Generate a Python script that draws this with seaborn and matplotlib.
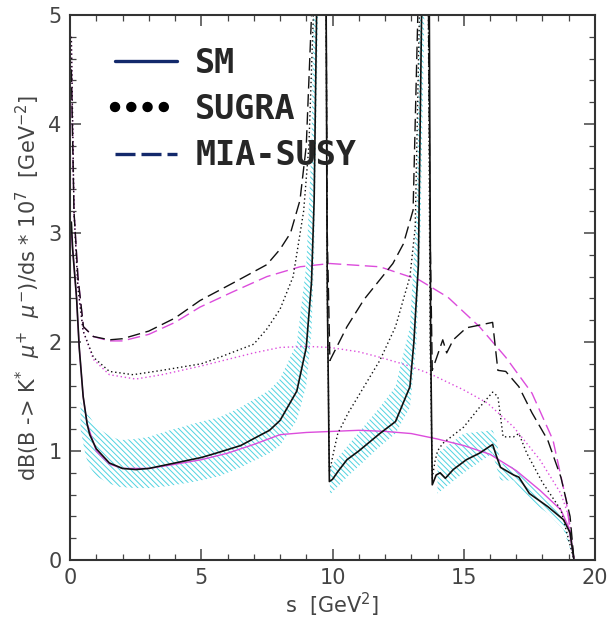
import numpy as np
import pandas as pd
import seaborn as sns
import matplotlib
matplotlib.use("Agg")
import matplotlib.pyplot as plt
from matplotlib.lines import Line2D
from matplotlib.ticker import MultipleLocator

# --- SM (black solid, with resonances) ---
s_sm = [0.05, 0.1, 0.15, 0.25, 0.35, 0.5, 0.65, 0.75, 1.0, 1.5, 2.0, 2.5, 3.0,
        3.8, 5.0, 5.7, 6.5, 7.6, 8.0, 8.64, 9.0, 9.2, 9.3, 9.42, 9.6, 9.75, 9.8,
        9.88, 10.0, 10.2, 10.55, 11.0, 11.8, 12.4, 12.95, 13.1, 13.27, 13.42,
        13.55, 13.68, 13.74, 13.8, 13.95, 14.1, 14.3, 14.6, 15.1, 15.6, 16.1,
        16.25, 16.4, 16.9, 17.1, 17.5, 18.2, 18.8, 19.05, 19.2]
v_sm = [3.1, 2.85, 2.7, 2.4, 1.95, 1.5, 1.25, 1.15, 1.02, 0.89, 0.84, 0.83, 0.84,
        0.88, 0.94, 0.99, 1.05, 1.19, 1.28, 1.55, 1.95, 2.55, 3.3, 5.5, 9.0, 5.5,
        2.5, 0.72, 0.74, 0.81, 0.92, 1.0, 1.16, 1.27, 1.59, 2.0, 2.7, 5.5, 9.0,
        5.5, 2.0, 0.69, 0.78, 0.80, 0.75, 0.83, 0.92, 0.98, 1.06, 0.95, 0.85,
        0.78, 0.76, 0.61, 0.49, 0.37, 0.25, 0.0]

# SM uncertainty band (nan = gap at the resonances)
s_band = [0.4, 0.6, 0.76, 1.0, 1.5, 1.9, 2.5, 3.0, 3.8, 5.0, 5.7, 6.5, 7.6, 8.0,
          8.64, 9.0, 9.2, 9.3, 9.45, 9.6,
          9.8, 9.9, 10.55, 11.8, 12.4, 12.95, 13.2, 13.35, 13.5, 13.6,
          13.75, 14.0, 15.0, 16.1, 16.25, 16.4, 16.9, 17.5, 18.2, 18.8, 19.2]
band_hi = [1.45, 1.35, 1.31, 1.22, 1.14, 1.10, 1.11, 1.13, 1.19, 1.27, 1.31, 1.40,
           1.56, 1.66, 1.99, 2.7, 3.8, 5.5, 5.5, np.nan,
           np.nan, 0.85, 1.04, 1.40, 1.59, 2.14, 3.2, 5.5, 5.5, np.nan,
           np.nan, 0.98, 1.16, 1.19, 1.10, 0.89, 0.85, 0.71, 0.55, 0.37, 0.0]
band_lo = [1.2, 0.95, 0.85, 0.77, 0.70, 0.67, 0.66, 0.66, 0.68, 0.73, 0.77, 0.85,
           0.98, 1.05, 1.28, 1.6, 2.1, 2.8, 5.0, np.nan,
           np.nan, 0.6, 0.76, 1.04, 1.16, 1.4, 2.0, 3.0, 5.0, np.nan,
           np.nan, 0.61, 0.80, 0.98, 0.85, 0.73, 0.73, 0.55, 0.43, 0.28, 0.0]

# --- SM non-resonant (magenta solid) ---
s_sm_nr = [0.05, 0.15, 0.25, 0.35, 0.5, 0.65, 1.0, 1.5, 2.0, 3.0, 3.8, 5.0, 6.0,
           7.0, 8.0, 9.0, 10.0, 11.0, 12.0, 13.0, 14.0, 15.0, 16.0, 17.0, 17.9,
           18.7, 19.0, 19.2]
v_sm_nr = [3.0, 2.7, 2.4, 1.95, 1.5, 1.25, 1.0, 0.88, 0.84, 0.84, 0.87, 0.92,
           0.98, 1.06, 1.15, 1.17, 1.18, 1.19, 1.18, 1.16, 1.11, 1.05, 0.97,
           0.82, 0.64, 0.46, 0.3, 0.0]

# --- SUGRA (black dotted) ---
s_sugra = [0.05, 0.15, 0.3, 0.5, 0.89, 1.5, 2.4, 3.5, 5.0, 5.7, 7.0, 7.5, 8.0,
           8.5, 8.9, 9.1, 9.27, 9.42, 9.6, 9.75, 9.8, 9.88, 10.05, 10.2, 10.6,
           11.2, 11.8, 12.4, 12.95, 13.15, 13.35, 13.5, 13.64, 13.72, 13.8,
           13.9, 14.0, 14.2, 15.0, 15.6, 16.1, 16.3, 16.5, 16.9, 17.1, 17.4,
           18.0, 18.7, 19.2]
v_sugra = [4.8, 3.2, 2.5, 2.1, 1.86, 1.73, 1.70, 1.74, 1.80, 1.86, 1.98, 2.12,
           2.3, 2.6, 3.2, 3.8, 5.0, 6.0, 9.0, 5.5, 2.5, 0.8, 1.0, 1.16, 1.35,
           1.59, 1.83, 2.14, 2.6, 3.05, 5.5, 9.0, 5.5, 2.0, 0.75, 0.9, 1.0,
           1.07, 1.22, 1.40, 1.54, 1.50, 1.13, 1.13, 1.16, 0.98, 0.71, 0.46, 0.0]

# --- SUGRA non-resonant (magenta dotted) ---
s_sugra_nr = [0.05, 0.15, 0.3, 0.5, 0.89, 1.5, 2.5, 3.5, 5.0, 6.0, 7.0, 8.0, 9.0,
              9.9, 11.0, 11.8, 12.8, 13.7, 15.0, 15.9, 16.9, 17.9, 18.7, 19.0,
              19.2]
v_sugra_nr = [4.8, 3.2, 2.5, 2.1, 1.84, 1.70, 1.66, 1.70, 1.78, 1.84, 1.90, 1.95,
              1.96, 1.95, 1.91, 1.86, 1.79, 1.71, 1.56, 1.44, 1.22, 0.92, 0.61,
              0.4, 0.0]

# --- MIA-SUSY (black dashed) ---
s_mia = [0.05, 0.15, 0.3, 0.51, 0.89, 1.5, 2.0, 3.0, 4.0, 4.95, 6.2, 7.5, 8.0,
         8.4, 8.76, 9.0, 9.2, 9.42, 9.6, 9.75, 9.8, 9.9, 10.55, 11.2, 11.8,
         12.3, 12.7, 13.07, 13.3, 13.5, 13.64, 13.72, 13.8, 14.2, 14.35, 14.6,
         15.1, 16.1, 16.3, 16.6, 17.1, 17.6, 18.2, 18.7, 19.05, 19.2]
v_mia = [4.5, 3.2, 2.6, 2.14, 2.05, 2.02, 2.03, 2.1, 2.22, 2.38, 2.54, 2.71, 2.85,
         3.0, 3.3, 3.8, 5.0, 6.0, 9.0, 5.5, 3.0, 1.83, 2.14, 2.39, 2.57, 2.72,
         2.9, 3.21, 5.5, 9.0, 5.5, 3.0, 1.74, 2.02, 1.9, 2.02, 2.13, 2.18, 1.74,
         1.73, 1.59, 1.35, 1.10, 0.76, 0.4, 0.0]

# --- MIA-SUSY non-resonant (magenta dashed) ---
s_mia_nr = [0.05, 0.15, 0.3, 0.51, 0.89, 1.5, 2.0, 3.0, 4.0, 4.95, 6.2, 7.5, 8.76,
            9.9, 11.8, 13.3, 14.4, 15.6, 16.6, 17.6, 18.4, 18.9, 19.2]
v_mia_nr = [4.5, 3.2, 2.6, 2.14, 2.05, 2.01, 2.01, 2.07, 2.18, 2.32, 2.46, 2.6,
            2.69, 2.72, 2.69, 2.57, 2.41, 2.14, 1.86, 1.53, 1.10, 0.55, 0.0]

legend_labels = ["SM", "SUGRA", "MIA-SUSY"]

MAGENTA = "#dc4cdc"
CYAN = "#4fd3e0"
NAVY = "#13296b"

sns.set_theme(style="ticks")
plt.rcParams["font.family"] = ["DejaVu Sans"]
plt.rcParams["hatch.color"] = CYAN
plt.rcParams["hatch.linewidth"] = 0.7

fig = plt.figure(figsize=(6.09, 6.19), dpi=100)
ax = fig.add_axes([0.115, 0.0953, 0.862, 0.8805])

ax.fill_between(s_band, band_lo, band_hi, facecolor="none", edgecolor=CYAN,
                hatch=r"\\\\\\", linewidth=0)

sns.lineplot(x=s_sm_nr, y=v_sm_nr, ax=ax, color=MAGENTA, lw=1.0, sort=False,
             estimator=None)
sns.lineplot(x=s_sugra_nr, y=v_sugra_nr, ax=ax, color=MAGENTA, lw=1.0,
             linestyle=(0, (1, 2)), sort=False, estimator=None)
sns.lineplot(x=s_mia_nr, y=v_mia_nr, ax=ax, color=MAGENTA, lw=1.0,
             linestyle=(0, (9, 4)), sort=False, estimator=None)

sns.lineplot(x=s_sm, y=v_sm, ax=ax, color="#111111", lw=1.2, sort=False,
             estimator=None)
sns.lineplot(x=s_sugra, y=v_sugra, ax=ax, color="#111111", lw=1.0,
             linestyle=(0, (1, 2)), sort=False, estimator=None)
sns.lineplot(x=s_mia, y=v_mia, ax=ax, color="#111111", lw=1.0,
             linestyle=(0, (9, 4)), sort=False, estimator=None)

ax.set_xlim(0, 20)
ax.set_ylim(0, 5)
ax.xaxis.set_major_locator(MultipleLocator(5))
ax.xaxis.set_minor_locator(MultipleLocator(1))
ax.yaxis.set_major_locator(MultipleLocator(1))
ax.yaxis.set_minor_locator(MultipleLocator(0.2))
ax.tick_params(which="both", direction="in", top=True, right=True,
               colors="#444444", labelsize=15, pad=6)
ax.tick_params(which="major", length=8, width=1.1)
ax.tick_params(which="minor", length=4, width=0.9)
for sp in ax.spines.values():
    sp.set_linewidth(1.5)
    sp.set_color("#333333")

ax.set_xlabel("s  [GeV$^{2}$]", fontsize=15, color="#444444", labelpad=2)
ax.set_ylabel(r"dB(B -> K$^{*}$  $\mu^{+}$  $\mu^{-}$)/ds * 10$^{7}$  [GeV$^{-2}$]",
              fontsize=15, color="#444444", labelpad=4)

handles = [
    Line2D([], [], color=NAVY, lw=2.4),
    Line2D([], [], color="black", lw=7.5, linestyle=(0, (0.01, 1.55)),
           dash_capstyle="round"),
    Line2D([], [], color=NAVY, lw=2.4, linestyle=(0, (6.0, 1.8))),
]
ax.legend(handles, legend_labels, loc="upper left",
          bbox_to_anchor=(0.086, 0.942), frameon=False, borderpad=0,
          borderaxespad=0, handlelength=1.85, handletextpad=0.55,
          labelspacing=0.4,
          prop={"family": "DejaVu Sans Mono", "weight": "bold", "size": 24})

fig.savefig("out.png", dpi=100)
